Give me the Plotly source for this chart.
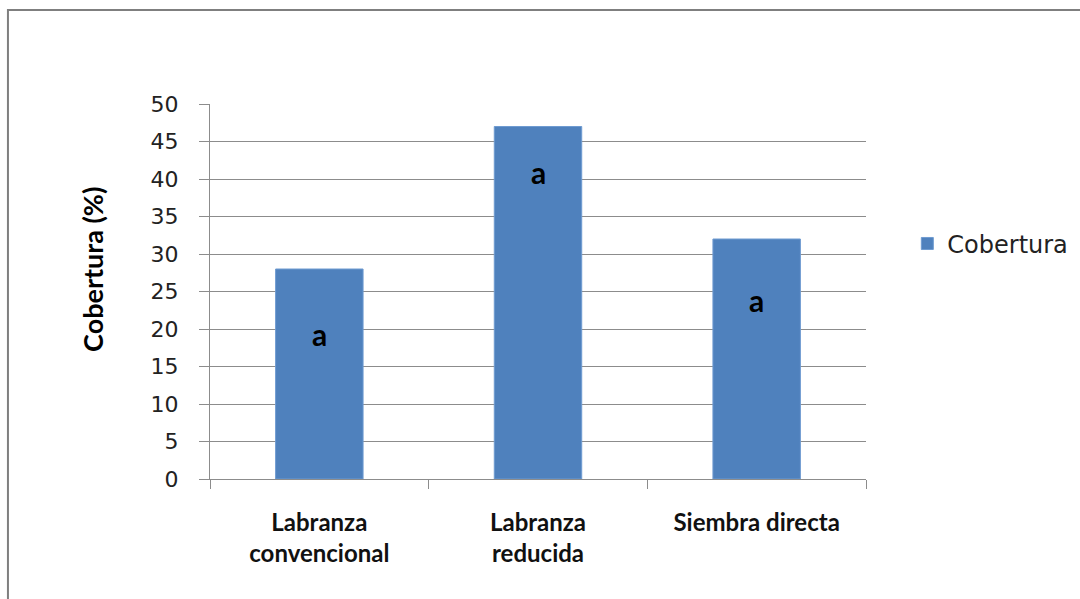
import plotly.graph_objects as go

# Soil cover per tillage system
categorias = ["Labranza<br>convencional", "Labranza<br>reducida", "Siembra directa"]
cobertura = [28, 47, 32]
letras = ["a", "a", "a"]
letra_y = [19.4, 40.9, 23.9]
y_ticks = [0, 5, 10, 15, 20, 25, 30, 35, 40, 45, 50]

BAR = "#4f81bd"
GRID = "#8c8c8c"

fig = go.Figure()
fig.add_trace(go.Bar(
    x=categorias, y=cobertura, name="Cobertura",
    marker=dict(color=BAR, line=dict(color="#6f9bd1", width=1)),
    width=0.4, showlegend=True,
))

# Significance letters inside the bars
for cat, txt, yy in zip(categorias, letras, letra_y):
    fig.add_annotation(x=cat, y=yy, text=f"<b>{txt}</b>", showarrow=False,
                       font=dict(family="Lato", size=30, color="black"))

# Y-axis title
fig.add_annotation(xref="paper", yref="paper", x=-0.18, y=0.56,
                   xanchor="center", yanchor="middle",
                   text="<b>Cobertura (%)</b>", textangle=-90, showarrow=False,
                   font=dict(family="Lato", size=27, color="black"))

# Outer chart frame
fig.add_shape(type="rect", xref="paper", yref="paper",
              x0=-0.308, x1=1.34, y0=-0.34, y1=1.2507,
              line=dict(color="#7f7f7f", width=2), layer="below")

fig.update_layout(
    width=1080, height=599,
    margin=dict(l=210, r=214, t=104, b=120, autoexpand=False),
    paper_bgcolor="white", plot_bgcolor="white",
    bargap=0.6,
    legend=dict(x=1.063, y=0.627, xanchor="left", yanchor="middle",
                font=dict(family="DejaVu Sans", size=24, color="#222"),
                itemwidth=30),
    xaxis=dict(
        type="category", tickson="boundaries",
        ticks="outside", ticklen=9, tickcolor=GRID,
        showline=True, linecolor=GRID, linewidth=1,
        showgrid=False,
        tickfont=dict(family="Lato", size=24, color="#111", weight="bold"),
        ticklabelstandoff=22,
    ),
    yaxis=dict(
        range=[0, 50], tickvals=y_ticks,
        ticks="outside", ticklen=10, tickcolor=GRID,
        showline=True, linecolor=GRID, linewidth=1,
        showgrid=True, gridcolor=GRID, gridwidth=1,
        zeroline=False,
        tickfont=dict(family="DejaVu Sans", size=22, color="#222"),
        ticklabelstandoff=16,
    ),
)

fig.write_html("out.html")
